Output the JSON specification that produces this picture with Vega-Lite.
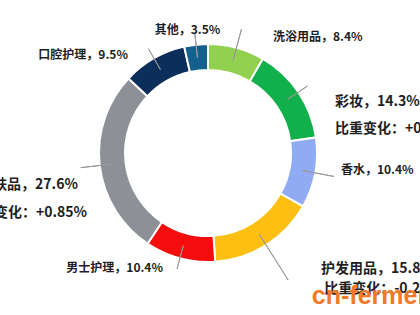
{
  "$schema": "https://vega.github.io/schema/vega-lite/v6.json",
  "autosize": "none",
  "width": 416,
  "height": 306,
  "padding": {"left": 0, "top": 0, "right": 4, "bottom": 9},
  "background": "#ffffff",
  "title": {
    "text": "cn-ferment",
    "orient": "bottom",
    "anchor": "end",
    "frame": "group",
    "baseline": "alphabetic",
    "offset": -33,
    "dx": 25,
    "font": "Liberation Sans, Arial, sans-serif",
    "fontSize": 25,
    "fontWeight": "bold",
    "color": "#f07a28",
    "opacity": 0.85
  },
  "data": {
    "values": [
      {"rank": 1, "category": "洗浴用品", "share": 8.4, "label": "洗浴用品，8.4%", "change": ""},
      {"rank": 2, "category": "彩妆", "share": 14.3, "label": "彩妆，14.3%", "change": "比重变化：+0.52%"},
      {"rank": 3, "category": "香水", "share": 10.4, "label": "香水，10.4%", "change": ""},
      {"rank": 4, "category": "护发用品", "share": 15.8, "label": "护发用品，15.8%", "change": "比重变化：-0.29%"},
      {"rank": 5, "category": "男士护理", "share": 10.4, "label": "男士护理，10.4%", "change": ""},
      {"rank": 6, "category": "护肤品", "share": 27.6, "label": "护肤品，27.6%", "change": "比重变化：+0.85%"},
      {"rank": 7, "category": "口腔护理", "share": 9.5, "label": "口腔护理，9.5%", "change": ""},
      {"rank": 8, "category": "其他", "share": 3.5, "label": "其他，3.5%", "change": ""}
    ]
  },
  "encoding": {
    "order": {"field": "rank", "type": "quantitative"}
  },
  "layer": [
    {
      "mark": {"type": "arc", "outerRadius": 109, "innerRadius": 83, "stroke": "#ffffff", "strokeWidth": 2},
      "encoding": {
        "theta": {"field": "share", "type": "quantitative", "stack": true},
        "color": {
          "field": "category", "type": "nominal", "legend": null,
          "scale": {
            "domain": ["洗浴用品", "彩妆", "香水", "护发用品", "男士护理", "护肤品", "口腔护理", "其他"],
            "range": ["#92d050", "#12b04c", "#8eabf4", "#fdbf12", "#f50d0d", "#8d9197", "#0c2e5a", "#15608f"]
          }
        }
      }
    },
    {
      "mark": {"type": "arc", "outerRadius": 120, "innerRadius": 96, "padAngle": 3, "fillOpacity": 0, "stroke": "#9a9a9a", "strokeWidth": 1},
      "encoding": {
        "theta": {"field": "share", "type": "quantitative", "stack": true},
        "strokeOpacity": {"condition": {"test": "indexof(['其他','口腔护理','男士护理','彩妆'], datum.category) >= 0", "value": 1}, "value": 0}
      }
    },
    {
      "mark": {"type": "arc", "outerRadius": 128, "innerRadius": 96, "padAngle": 3, "fillOpacity": 0, "stroke": "#9a9a9a", "strokeWidth": 1},
      "encoding": {
        "theta": {"field": "share", "type": "quantitative", "stack": true},
        "strokeOpacity": {"condition": {"test": "indexof(['洗浴用品','香水','护肤品'], datum.category) >= 0", "value": 1}, "value": 0}
      }
    },
    {
      "mark": {"type": "arc", "outerRadius": 150, "innerRadius": 96, "padAngle": 3, "fillOpacity": 0, "stroke": "#9a9a9a", "strokeWidth": 1},
      "encoding": {
        "theta": {"field": "share", "type": "quantitative", "stack": true},
        "strokeOpacity": {"condition": {"test": "datum.category === '护发用品'", "value": 1}, "value": 0}
      }
    },
    {
      "mark": {"type": "text", "radius": 125, "align": "center", "baseline": "middle", "font": "Noto Sans CJK SC", "fontWeight": "bold", "fontSize": 12, "color": "#1e1e1e"},
      "encoding": {
        "theta": {"field": "share", "type": "quantitative", "stack": true, "bandPosition": 0.254},
        "text": {"condition": {"test": "datum.category === '其他'", "field": "label"}, "value": ""}
      }
    },
    {
      "mark": {"type": "text", "radius": 133, "align": "left", "baseline": "middle", "font": "Noto Sans CJK SC", "fontWeight": "bold", "fontSize": 12, "color": "#1e1e1e"},
      "encoding": {
        "theta": {"field": "share", "type": "quantitative", "stack": true, "bandPosition": 0.967},
        "text": {"condition": {"test": "datum.category === '洗浴用品'", "field": "label"}, "value": ""}
      }
    },
    {
      "mark": {"type": "text", "radius": 126.5, "align": "right", "baseline": "middle", "font": "Noto Sans CJK SC", "fontWeight": "bold", "fontSize": 12, "color": "#1e1e1e"},
      "encoding": {
        "theta": {"field": "share", "type": "quantitative", "stack": true, "bandPosition": 0.222},
        "text": {"condition": {"test": "datum.category === '口腔护理'", "field": "label"}, "value": ""}
      }
    },
    {
      "mark": {"type": "text", "radius": 136.7, "align": "left", "baseline": "middle", "font": "Noto Sans CJK SC", "fontWeight": "bold", "fontSize": 14, "color": "#1e1e1e"},
      "encoding": {
        "theta": {"field": "share", "type": "quantitative", "stack": true, "bandPosition": 0.738},
        "text": {"condition": {"test": "datum.category === '彩妆'", "field": "label"}, "value": ""}
      }
    },
    {
      "mark": {"type": "text", "radius": 129.2, "align": "left", "baseline": "middle", "font": "Noto Sans CJK SC", "fontWeight": "bold", "fontSize": 14, "color": "#1e1e1e"},
      "encoding": {
        "theta": {"field": "share", "type": "quantitative", "stack": true, "bandPosition": 0.951},
        "text": {"condition": {"test": "datum.category === '彩妆'", "field": "change"}, "value": ""}
      }
    },
    {
      "mark": {"type": "text", "radius": 134, "align": "left", "baseline": "middle", "font": "Noto Sans CJK SC", "fontWeight": "bold", "fontSize": 12, "color": "#1e1e1e"},
      "encoding": {
        "theta": {"field": "share", "type": "quantitative", "stack": true, "bandPosition": 0.413},
        "text": {"condition": {"test": "datum.category === '香水'", "field": "label"}, "value": ""}
      }
    },
    {
      "mark": {"type": "text", "radius": 162, "align": "left", "baseline": "middle", "font": "Noto Sans CJK SC", "fontWeight": "bold", "fontSize": 14, "color": "#1e1e1e"},
      "encoding": {
        "theta": {"field": "share", "type": "quantitative", "stack": true, "bandPosition": 0.289},
        "text": {"condition": {"test": "datum.category === '护发用品'", "field": "label"}, "value": ""}
      }
    },
    {
      "mark": {"type": "text", "radius": 179, "align": "left", "baseline": "middle", "font": "Noto Sans CJK SC", "fontWeight": "bold", "fontSize": 14, "color": "#1e1e1e"},
      "encoding": {
        "theta": {"field": "share", "type": "quantitative", "stack": true, "bandPosition": 0.356},
        "text": {"condition": {"test": "datum.category === '护发用品'", "field": "change"}, "value": ""}
      }
    },
    {
      "mark": {"type": "text", "radius": 123.5, "align": "right", "baseline": "middle", "font": "Noto Sans CJK SC", "fontWeight": "bold", "fontSize": 12, "color": "#1e1e1e"},
      "encoding": {
        "theta": {"field": "share", "type": "quantitative", "stack": true, "bandPosition": 0.671},
        "text": {"condition": {"test": "datum.category === '男士护理'", "field": "label"}, "value": ""}
      }
    },
    {
      "mark": {"type": "text", "radius": 134, "align": "right", "baseline": "middle", "font": "Noto Sans CJK SC", "fontWeight": "bold", "fontSize": 14, "color": "#1e1e1e"},
      "encoding": {
        "theta": {"field": "share", "type": "quantitative", "stack": true, "bandPosition": 0.427},
        "text": {"condition": {"test": "datum.category === '护肤品'", "field": "label"}, "value": ""}
      }
    },
    {
      "mark": {"type": "text", "radius": 135, "align": "right", "baseline": "middle", "font": "Noto Sans CJK SC", "fontWeight": "bold", "fontSize": 14, "color": "#1e1e1e"},
      "encoding": {
        "theta": {"field": "share", "type": "quantitative", "stack": true, "bandPosition": 0.301},
        "text": {"condition": {"test": "datum.category === '护肤品'", "field": "change"}, "value": ""}
      }
    }
  ],
  "config": {"view": {"stroke": null}}
}
